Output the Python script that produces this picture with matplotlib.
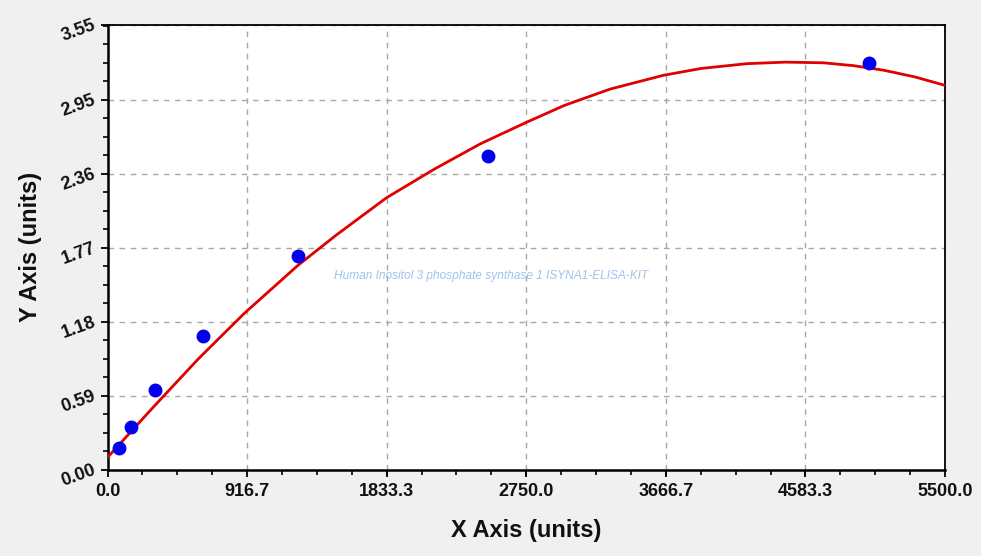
import matplotlib
matplotlib.use("Agg")
import matplotlib.pyplot as plt
from matplotlib.ticker import FixedLocator, AutoMinorLocator

# data
std_x = [78.125, 156.25, 312.5, 625, 1250, 2500, 5000]
std_y = [0.175, 0.343, 0.637, 1.07, 1.705, 2.502, 3.24]

curve_x = [0, 150, 300, 600, 900, 1250, 1500, 1833, 2150, 2450, 2750, 3000,
           3300, 3650, 3900, 4200, 4450, 4700, 4900, 5100, 5300, 5500]
curve_y = [0.10, 0.30, 0.50, 0.89, 1.25, 1.63, 1.87, 2.17, 2.40, 2.60, 2.77, 2.905,
           3.035, 3.145, 3.20, 3.238, 3.25, 3.245, 3.222, 3.185, 3.133, 3.065]

x_ticks = [0.0, 916.7, 1833.3, 2750.0, 3666.7, 4583.3, 5500.0]
x_tick_labels = ["0.0", "916.7", "1833.3", "2750.0", "3666.7", "4583.3", "5500.0"]
y_ticks = [0.00, 0.59, 1.18, 1.77, 2.36, 2.95, 3.55]
y_tick_labels = ["0.00", "0.59", "1.18", "1.77", "2.36", "2.95", "3.55"]

x_label = "X Axis (units)"
y_label = "Y Axis (units)"
watermark = "Human Inositol 3 phosphate synthase 1 ISYNA1-ELISA-KIT"

plt.rcParams['font.family'] = ['Liberation Sans', 'DejaVu Sans']

fig = plt.figure(figsize=(9.81, 5.56), dpi=100, facecolor='#f0f0f0')
ax = fig.add_axes([107.5/981, 86/556, (945-107.5)/981, (470-24.5)/556])
ax.set_facecolor('white')

ax.set_xlim(0, 5500)
ax.set_ylim(0, 3.55)

ax.xaxis.set_major_locator(FixedLocator(x_ticks))
ax.yaxis.set_major_locator(FixedLocator(y_ticks))
ax.set_xticklabels(x_tick_labels)
ax.set_yticklabels(y_tick_labels)
ax.xaxis.set_minor_locator(AutoMinorLocator(4))
ax.yaxis.set_minor_locator(AutoMinorLocator(4))

ax.grid(True, which='major', color='#a8a8a8', linestyle=(0, (4, 4)), linewidth=1.0)
ax.set_axisbelow(True)

ax.tick_params(axis='both', which='major', direction='out', length=5, width=1.3,
               color='black', labelsize=13, pad=4)
ax.tick_params(axis='both', which='minor', direction='out', length=3.5, width=1.2,
               color='black')
for lab in ax.get_xticklabels():
    lab.set_fontweight('bold')
    lab.set_color('#111111')
for lab in ax.get_yticklabels():
    lab.set_fontweight('bold')
    lab.set_color('#111111')
    lab.set_rotation(20)
    lab.set_rotation_mode('anchor')
    lab.set_ha('right')
    lab.set_va('center')

for s in ax.spines.values():
    s.set_color('black')
    s.set_linewidth(1.3)
ax.spines['left'].set_linewidth(1.8)
ax.spines['bottom'].set_linewidth(1.8)

ax.plot(curve_x, curve_y, color='#e00000', linewidth=2.0, zorder=3, clip_on=True)
ax.plot(std_x, std_y, linestyle='none', marker='o', markersize=9,
        markerfacecolor='#0000ee', markeredgecolor='#0000ee', zorder=4)

ax.set_xlabel(x_label, fontsize=17, fontweight='bold', color='#111111', labelpad=14)
ax.set_ylabel(y_label, fontsize=17, fontweight='bold', color='#111111', labelpad=12)

ax.text(0.458, 0.435, watermark, transform=ax.transAxes, fontsize=8.6,
        color='#9cc4ea', ha='center', va='center', style='italic')

fig.savefig("out.png", dpi=100, facecolor=fig.get_facecolor())
